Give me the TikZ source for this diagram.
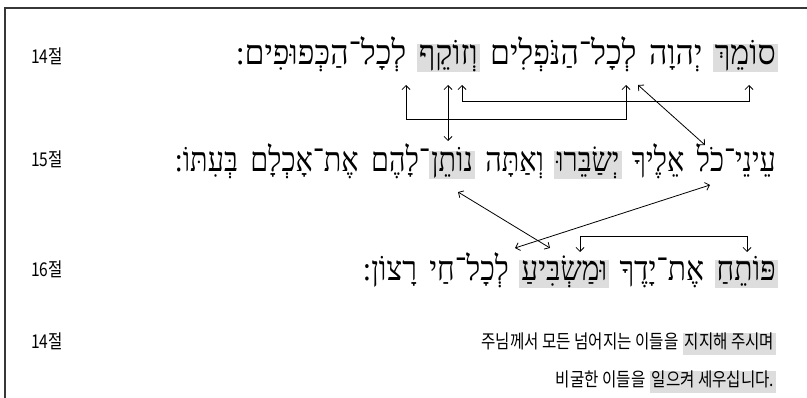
\documentclass[tikz,border=0pt]{standalone}
\usepackage{fontspec}
\usetikzlibrary{arrows.meta}
\TeXXeTstate=1
\newfontfamily\hebA[Script=Hebrew,FakeStretch=0.94]{Liberation Serif}
\newfontfamily\hebB[Script=Hebrew,FakeStretch=0.845]{Liberation Serif}
\newfontfamily\hebC[Script=Hebrew,FakeStretch=0.88]{Liberation Serif}
\newfontfamily\kr[FakeStretch=0.82]{Noto Sans CJK KR}
\definecolor{hlgray}{RGB}{221,221,221}
\definecolor{framegray}{RGB}{55,55,55}
\newcommand\rtl[1]{\beginR #1\endR}
\tikzset{
  word/.style={inner xsep=2pt, inner ysep=0pt, text height=21pt, text depth=7pt, anchor=base east},
  rowA/.style={word, font={\hebA\fontsize{34pt}{36pt}\selectfont}},
  rowB/.style={word, font={\hebB\fontsize{34pt}{36pt}\selectfont}},
  rowC/.style={word, font={\hebC\fontsize{34pt}{36pt}\selectfont}},
  hl/.style={fill=hlgray},
  kword/.style={inner xsep=1.5pt, inner ysep=0pt, text height=16pt, text depth=6pt,
               font={\kr\fontsize{19pt}{22pt}\selectfont}, anchor=base east},
  verselabel/.style={inner sep=0pt, anchor=base west, font={\kr\fontsize{19pt}{22pt}\selectfont}},
  conn/.style={line width=0.8pt, draw=black,
               {Straight Barb[length=4pt,width=8pt]}-{Straight Barb[length=4pt,width=8pt]}},
  frameline/.style={draw=framegray, line width=1.6pt}
}
\begin{document}
\begin{tikzpicture}[x=1pt,y=-1pt]
\useasboundingbox (0,0) rectangle (807,398);
% frame
\coordinate (f0) at (5,8);
\coordinate (f1) at (807,8);
\coordinate (f2) at (5,398);
\draw[frameline] (f1) -- (f0) -- (f2);

% verse labels
\node[verselabel] (l14) at (31,64) {14절};
\node[verselabel] (l15) at (31,167) {15절};
\node[verselabel] (l16) at (31,277) {16절};
\node[verselabel] (l14k) at (31,349) {14절};

% row 1 (verse 14)
\node[rowA,hl] (r1a) at (778,65) {\rtl{סוֹמֵךְ}};
\node[rowA]    (r1b) at ([xshift=-8pt]r1a.base west) {\rtl{יְהוָה}};
\node[rowA]    (r1c) at ([xshift=-8pt]r1b.base west) {\rtl{לְכָל־הַנֹּפְלִים}};
\node[rowA,hl] (r1d) at ([xshift=-8pt]r1c.base west) {\rtl{וְזוֹקֵף}};
\node[rowA]    (r1e) at ([xshift=-8pt]r1d.base west) {\rtl{לְכָל־הַכְּפוּפִים:}};

% row 2 (verse 15)
\node[rowB]    (r2a) at (778,172) {\rtl{עֵינֵי־כֹל}};
\node[rowB]    (r2b) at ([xshift=-8pt]r2a.base west) {\rtl{אֵלֶיךָ}};
\node[rowB,hl] (r2c) at ([xshift=-8pt]r2b.base west) {\rtl{יְשַׂבֵּרוּ}};
\node[rowB]    (r2d) at ([xshift=-8pt]r2c.base west) {\rtl{וְאַתָּה}};
\node[rowB,hl] (r2e) at ([xshift=-8pt]r2d.base west) {\rtl{נוֹתֵן}};
\node[rowB]    (r2f) at ([xshift=3pt]r2e.base west) {\rtl{־לָהֶם}};
\node[rowB]    (r2g) at ([xshift=-8pt]r2f.base west) {\rtl{אֶת־אָכְלָם}};
\node[rowB]    (r2h) at ([xshift=-8pt]r2g.base west) {\rtl{בְּעִתּוֹ:}};

% row 3 (verse 16)
\node[rowC,hl] (r3a) at (778,281) {\rtl{פּוֹתֵחַ}};
\node[rowC]    (r3b) at ([xshift=-8pt]r3a.base west) {\rtl{אֶת־יָדֶךָ}};
\node[rowC,hl] (r3c) at ([xshift=-8pt]r3b.base west) {\rtl{וּמַשְׂבִּיעַ}};
\node[rowC]    (r3d) at ([xshift=-8pt]r3c.base west) {\rtl{לְכָל־חַי}};
\node[rowC]    (r3e) at ([xshift=-8pt]r3d.base west) {\rtl{רָצוֹן:}};

% Korean translation
\node[kword,hl] (k1b) at (776,349) {지지해 주시며};
\node[kword] (k1a) at ([xshift=-3pt]k1b.base west) {주님께서 모든 넘어지는 이들을};
\node[kword,hl] (k2b) at (776,387) {일으켜 세우십니다.};
\node[kword] (k2a) at ([xshift=-3pt]k2b.base west) {비굴한 이들을};

% connector end points
\coordinate (p1a) at (749,85);
\coordinate (p1d) at (462,85);
\coordinate (p1c) at (626,85);
\coordinate (p1e) at (406,85);
\coordinate (p1v) at (448,85);
\coordinate (p2v) at (448,141);
\coordinate (p1x) at (638,85);
\coordinate (p2x) at (705,145);
\coordinate (p2e) at (458,192);
\coordinate (p3c) at (550,248);
\coordinate (p2a) at (710,185);
\coordinate (p3d) at (515,248);
\coordinate (p3a) at (747,252);
\coordinate (p3cc) at (580,252);

\draw[conn] (p1a) -- ++(0,16) -| (p1d);
\draw[conn] (p1c) -- ++(0,34) -| (p1e);
\draw[conn] (p1v) -- (p2v);
\draw[conn] (p1x) -- (p2x);
\draw[conn] (p2e) -- (p3c);
\draw[conn] (p2a) -- (p3d);
\draw[conn] (p3a) -- ++(0,-16) -| (p3cc);
\end{tikzpicture}
\end{document}
